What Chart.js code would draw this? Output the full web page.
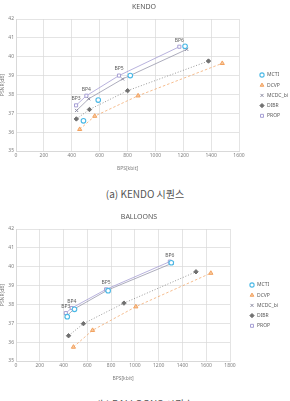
<!DOCTYPE html>
<html>
<head>
<meta charset="utf-8">
<script src="https://cdn.jsdelivr.net/npm/chart.js@4.4.0/dist/chart.umd.min.js"></script>
<style>
  body { margin: 0; width: 290px; height: 401px; overflow: hidden; background: #fff; position: relative; font-family: "Noto Sans", "Noto Sans CJK KR", sans-serif; }
  .box { position: absolute; left: 0; width: 290px; height: 172px; }
  .cap { position: absolute; left: 0; width: 290px; text-align: center; font-size: 10px; color: #555; font-family: "Noto Sans CJK KR", "Noto Sans", sans-serif; }
</style>
</head>
<body>
<div class="box" style="top:0"><canvas id="chart1"></canvas></div>
<div class="cap" style="top:186px">(a) KENDO 시퀀스</div>
<div class="box" style="top:210px"><canvas id="chart2"></canvas></div>
<div class="cap" style="top:396px">(b) BALLOONS 시퀀스</div>

<script>
// series names and BP labels
const seriesNames = ['MCTI', 'DCVP', 'MCDC_bi', 'DIBR', 'PROP'];
const bpLabels = ['BP3', 'BP4', 'BP5', 'BP6'];

// KENDO (x: kbit/s, y: dB)
const kendoMctiX = [484, 590, 820, 1213];
const kendoMctiY = [36.6, 37.7, 39.0, 40.55];
const kendoDcvpX = [457, 565, 876, 1480];
const kendoDcvpY = [36.15, 36.85, 37.93, 39.65];
const kendoMcdcX = [435, 522, 765, 1225];
const kendoMcdcY = [37.15, 37.77, 38.82, 40.39];
const kendoDibrX = [433, 527, 801, 1381];
const kendoDibrY = [36.7, 37.2, 38.2, 39.77];
const kendoPropX = [431, 505, 739, 1172];
const kendoPropY = [37.42, 37.93, 39.0, 40.53];

// BALLOONS
const balMctiX = [431, 492, 775, 1306];
const balMctiY = [37.35, 37.74, 38.73, 40.21];
const balDcvpX = [483, 644, 1008, 1639];
const balDcvpY = [35.74, 36.63, 37.88, 39.66];
const balMcdcX = [425, 490, 770, 1312];
const balMcdcY = [37.38, 37.76, 38.76, 40.18];
const balDibrX = [442, 567, 908, 1514];
const balDibrY = [36.34, 36.98, 38.07, 39.73];
const balPropX = [419, 469, 758, 1294];
const balPropY = [37.54, 37.81, 38.80, 40.27];

const yTicks = [35, 36, 37, 38, 39, 40, 41, 42];

function pts(xs, ys) {
  return xs.map((x, i) => ({ x: x, y: ys[i] }));
}

function makeDatasets(s) {
  return [
    { label: seriesNames[0], data: pts(s[0], s[1]), showLine: false,
      pointStyle: 'circle', borderColor: '#4ab8e6', backgroundColor: '#ffffff',
      pointRadius: 2.3, pointBorderWidth: 1.1 },
    { label: seriesNames[1], data: pts(s[2], s[3]), showLine: true,
      pointStyle: 'triangle', borderColor: '#f2a15e', backgroundColor: '#f7c9a0',
      borderWidth: 0.7, borderDash: [2.5, 2], pointRadius: 2.4, pointBorderWidth: 1 },
    { label: seriesNames[2], data: pts(s[4], s[5]), showLine: true,
      pointStyle: 'crossRot', borderColor: '#8a8aa0', backgroundColor: '#8a8aa0',
      borderWidth: 0.7, pointRadius: 2.2, pointBorderWidth: 1 },
    { label: seriesNames[3], data: pts(s[6], s[7]), showLine: true,
      pointStyle: 'rectRot', borderColor: '#707070', backgroundColor: '#707070',
      borderWidth: 0.7, borderDash: [1, 1.8], pointRadius: 2.2, pointBorderWidth: 1 },
    { label: seriesNames[4], data: pts(s[8], s[9]), showLine: true,
      pointStyle: 'rect', borderColor: '#a69ed4', backgroundColor: '#ffffff',
      borderWidth: 0.8, pointRadius: 2.2, pointBorderWidth: 1 }
  ];
}

// BP labels above PROP points
const bpPlugin = {
  id: 'bpLabels',
  afterDatasetsDraw(chart) {
    const meta = chart.getDatasetMeta(4);
    const ctx = chart.ctx;
    ctx.save();
    ctx.font = '5px "Noto Sans"';
    ctx.fillStyle = '#595959';
    ctx.textAlign = 'center';
    ctx.textBaseline = 'middle';
    meta.data.forEach((p, i) => {
      ctx.fillText(bpLabels[i], p.x, p.y - 6.5);
    });
    ctx.restore();
  }
};

// put the legend where the original has it
const legendPos = {
  id: 'legendPos',
  afterLayout(chart, args, opts) {
    const l = chart.legend;
    const w = l.width, h = l.height;
    l.left = opts.x; l.right = opts.x + w;
    l.top = opts.y; l.bottom = opts.y + h;
  }
};

function createChart(id, title, series, xMax, padRight, spaceRight, legendX) {
  const tickFont = { family: 'Noto Sans', size: 5 };
  return new Chart(document.getElementById(id), {
    type: 'scatter',
    data: { datasets: makeDatasets(series) },
    plugins: [bpPlugin, legendPos],
    options: {
      responsive: true,
      maintainAspectRatio: false,
      animation: false,
      layout: { padding: { left: 0, right: padRight, top: 0, bottom: 0 } },
      plugins: {
        title: { display: true, text: title, color: '#595959',
          font: { family: 'Noto Sans', size: 7, weight: 'normal' },
          padding: { top: 3, bottom: 7.6 } },
        legend: { position: 'chartArea', align: 'start',
          labels: { usePointStyle: true, boxWidth: 5, boxHeight: 3, padding: 5.2,
            color: '#595959', font: { family: 'Noto Sans', size: 5 } } },
        legendPos: { x: legendX, y: 67.3 },
        tooltip: { enabled: false }
      },
      scales: {
        x: {
          type: 'linear', min: 0, max: xMax,
          ticks: { stepSize: 200, color: '#7f7f7f', font: tickFont, padding: 2,
            callback: (v) => String(v) },
          grid: { color: '#d9d9d9', lineWidth: 0.7, tickLength: 0 },
          border: { color: '#d9d9d9' },
          title: { display: true, text: 'BPS[kbit]', color: '#7f7f7f', font: tickFont, padding: 0 },
          afterFit: (s) => { s.height = 21; }
        },
        y: {
          min: 35, max: 42,
          afterBuildTicks: (s) => { s.ticks = yTicks.map(v => ({ value: v })); },
          ticks: { color: '#7f7f7f', font: tickFont, padding: 2 },
          grid: { color: '#d9d9d9', lineWidth: 0.7, tickLength: 0 },
          border: { color: '#d9d9d9' },
          title: { display: true, text: 'PSNR[dB]', color: '#7f7f7f', font: tickFont, padding: 0 },
          afterFit: (s) => { s.width = 16; }
        },
        // empty right axis that keeps room for the legend
        space: {
          position: 'right', min: 0, max: 1,
          ticks: { display: false }, grid: { display: false }, border: { display: false },
          afterFit: (s) => { s.width = spaceRight; }
        }
      }
    }
  });
}

createChart('chart1', 'KENDO',
  [kendoMctiX, kendoMctiY, kendoDcvpX, kendoDcvpY, kendoMcdcX, kendoMcdcY,
   kendoDibrX, kendoDibrY, kendoPropX, kendoPropY], 1600, 2, 49, 254.3);

createChart('chart2', 'BALLOONS',
  [balMctiX, balMctiY, balDcvpX, balDcvpY, balMcdcX, balMcdcY,
   balDibrX, balDibrY, balPropX, balPropY], 1800, 12, 48, 244.3);
</script>
</body>
</html>
